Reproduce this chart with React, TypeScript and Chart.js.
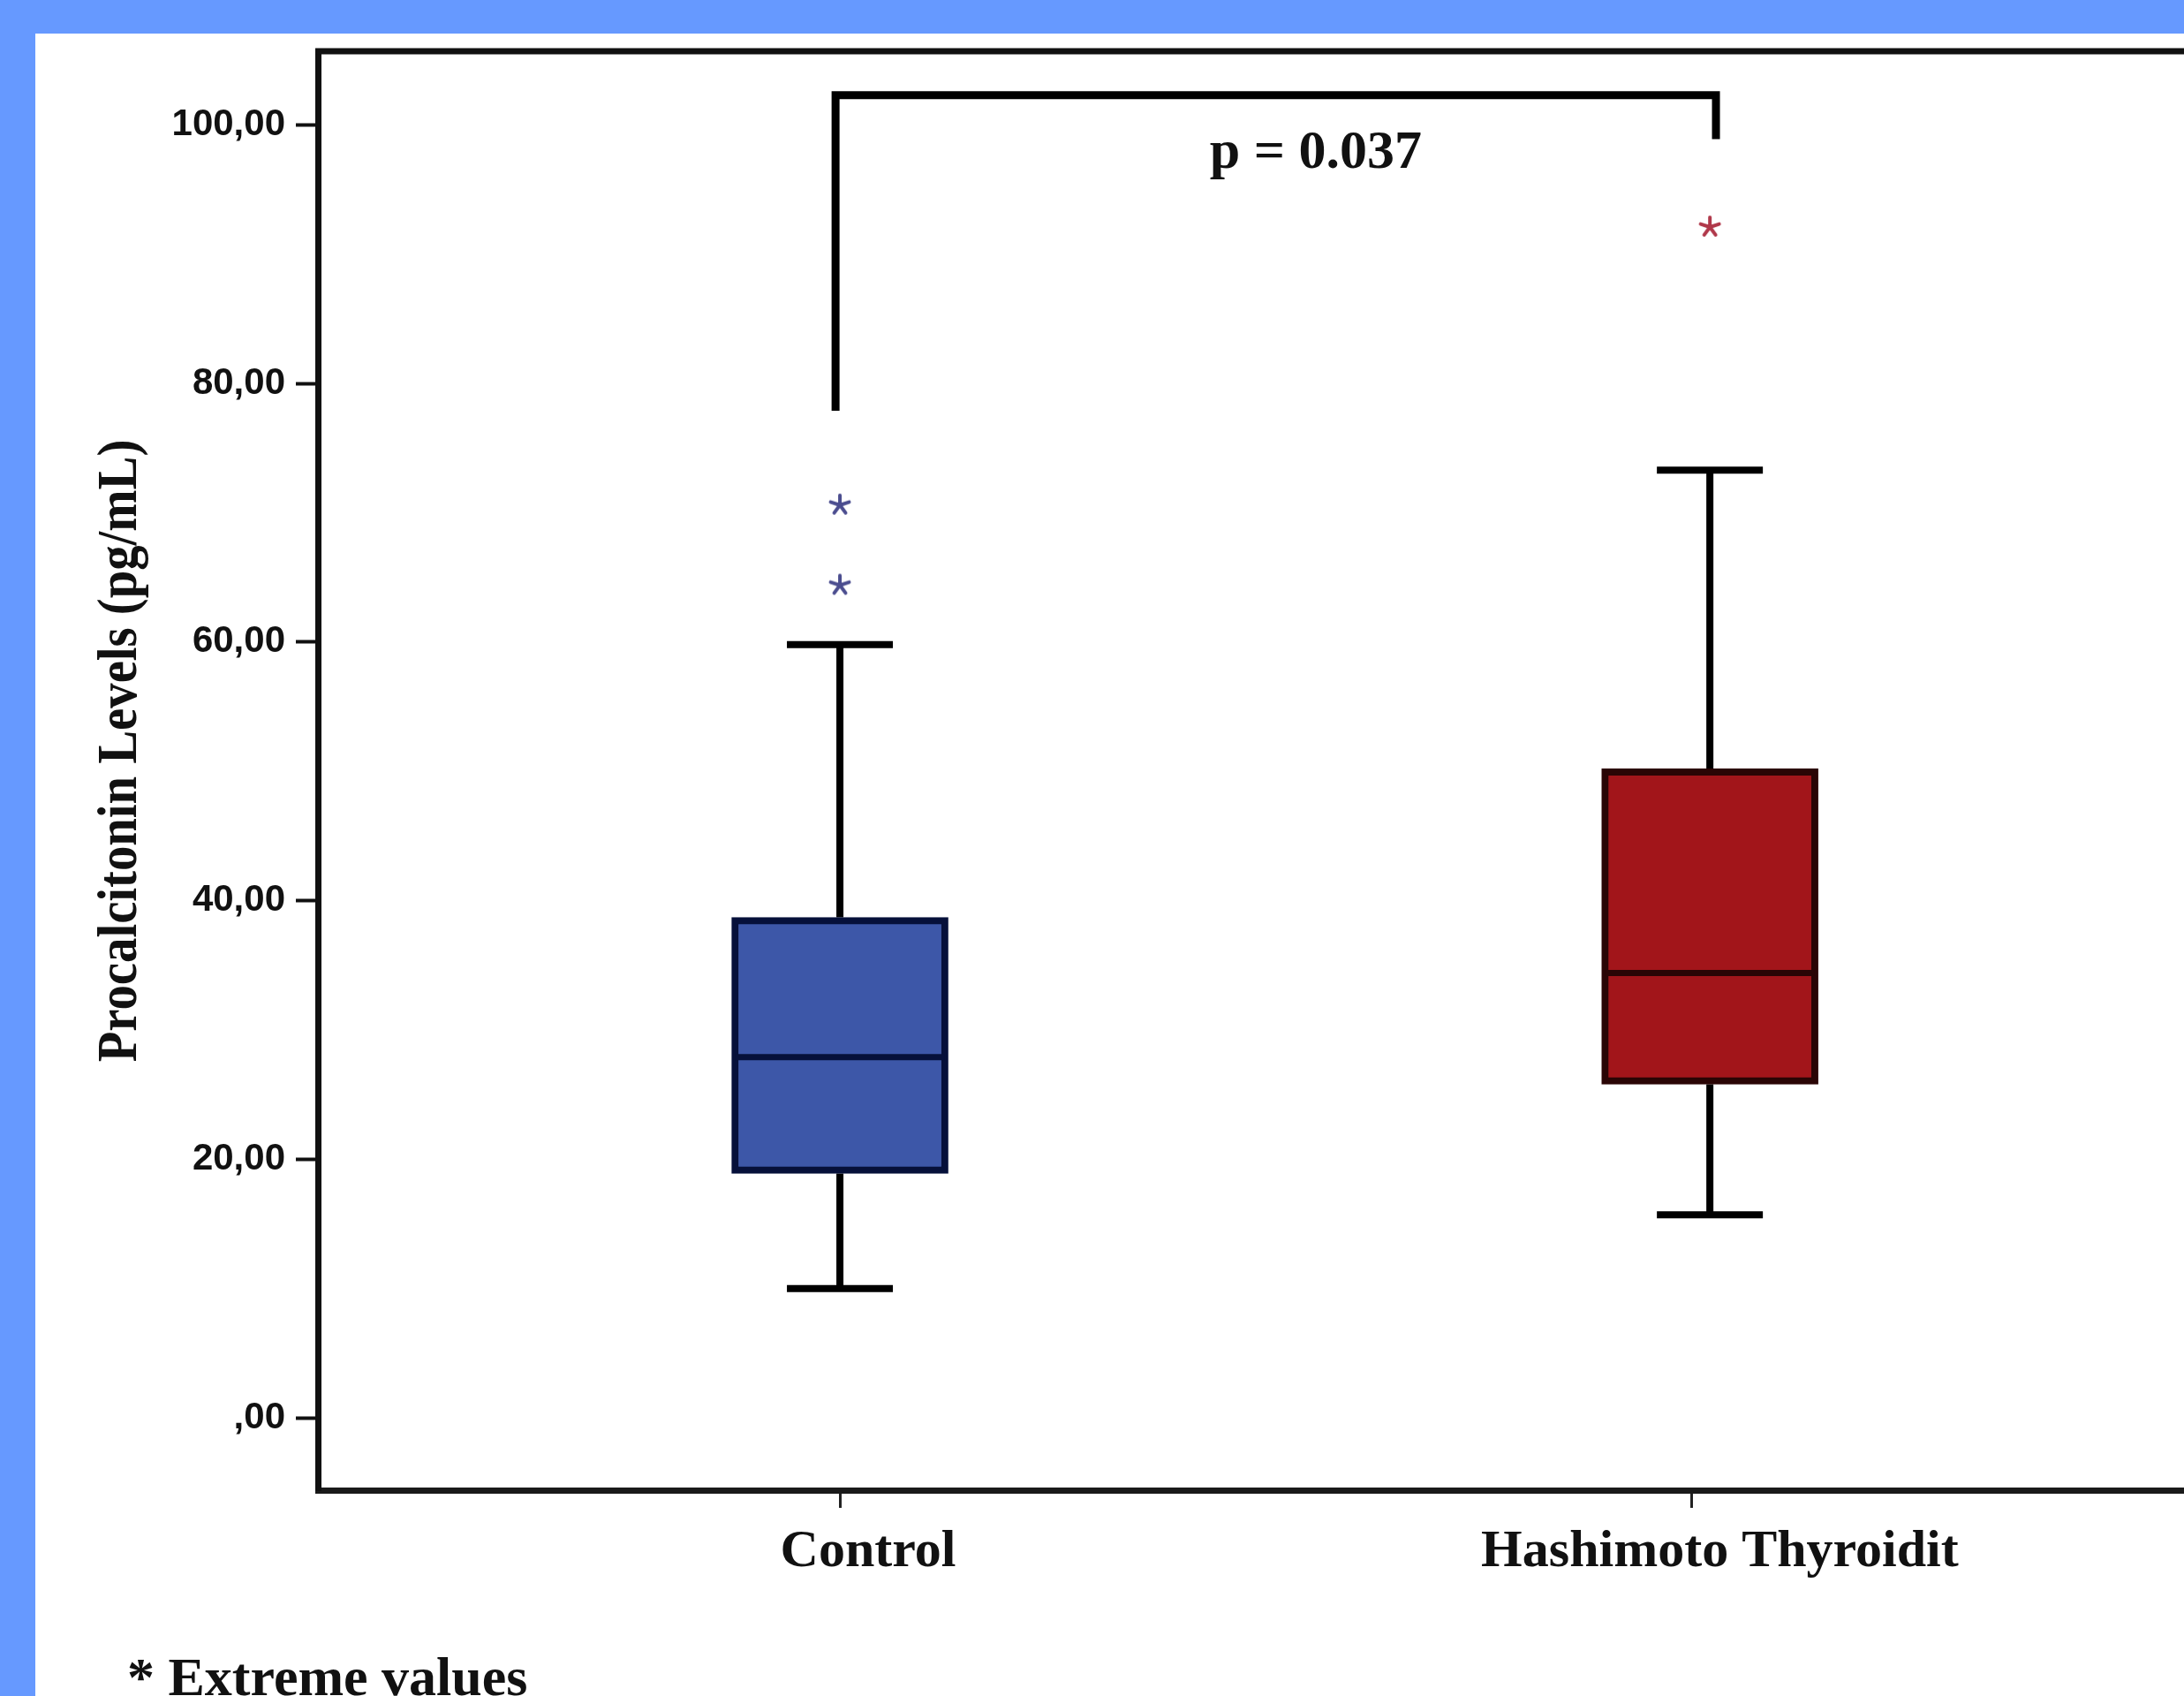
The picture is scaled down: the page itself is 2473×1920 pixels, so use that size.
import { useEffect, useRef } from "react";
import { Chart, ChartConfiguration, registerables } from "chart.js";

Chart.register(...registerables);

// Box plot values (pg/mL)
const groups = ["Control", "Hashimoto Thyroidit"];
const groupX = [1, 2];
const axisTickX = [1, 1.979]; // the x-axis ticks sit slightly off the box centres in the original
const whiskerLow = [10.0, 15.7];
const q1 = [18.9, 25.8];
const median = [27.9, 34.4];
const q3 = [38.7, 50.2];
const whiskerHigh = [59.8, 73.3];
const extremes = [[64.4, 70.6], [92.1]];
const yTicks = [0, 20, 40, 60, 80, 100];

// significance bracket
const bracketX = [0.995, 2.007];
const bracketTop = 102.3;
const bracketEnds = [77.9, 98.9];
const pLabel = "p = 0.037";
const pLabelX = 1.547;
const pLabelY = 96.7;

const boxFill = ["#3d57a8", "#a2151a"];
const boxEdge = ["#06103a", "#2a0505"];
const starColor = ["#4b4d8f", "#b0384a"];

const SERIF = "'Liberation Serif', 'Times New Roman', serif";
const SANS = "'Liberation Sans', Arial, sans-serif";

function makeStar(color: string) {
  const c = document.createElement("canvas");
  c.width = 30;
  c.height = 30;
  const g = c.getContext("2d")!;
  g.strokeStyle = color;
  g.lineWidth = 4;
  g.lineCap = "round";
  for (let k = 0; k < 5; k++) {
    const a = -Math.PI / 2 + (k * 2 * Math.PI) / 5;
    g.beginPath();
    g.moveTo(15, 15);
    g.lineTo(15 + Math.cos(a) * 11, 15 + Math.sin(a) * 11);
    g.stroke();
  }
  return c;
}

const boxParts = {
  id: "boxParts",
  beforeDatasetsDraw(chart: any) {
    const { ctx, scales: { x, y } } = chart;
    ctx.save();
    ctx.strokeStyle = "#000";
    ctx.lineWidth = 8;
    groups.forEach((_, i) => {
      const cx = x.getPixelForValue(groupX[i]);
      const cap = 60;
      ctx.beginPath();
      ctx.moveTo(cx, y.getPixelForValue(q3[i]));
      ctx.lineTo(cx, y.getPixelForValue(whiskerHigh[i]));
      ctx.moveTo(cx, y.getPixelForValue(q1[i]));
      ctx.lineTo(cx, y.getPixelForValue(whiskerLow[i]));
      ctx.moveTo(cx - cap, y.getPixelForValue(whiskerHigh[i]));
      ctx.lineTo(cx + cap, y.getPixelForValue(whiskerHigh[i]));
      ctx.moveTo(cx - cap, y.getPixelForValue(whiskerLow[i]));
      ctx.lineTo(cx + cap, y.getPixelForValue(whiskerLow[i]));
      ctx.stroke();
    });
    ctx.restore();
  },
  afterDatasetsDraw(chart: any) {
    const { ctx, chartArea, scales: { x, y } } = chart;
    const bars = chart.getDatasetMeta(0).data;
    ctx.save();

    // medians
    ctx.lineWidth = 7;
    groups.forEach((_, i) => {
      const cx = x.getPixelForValue(groupX[i]);
      const half = bars[i].width / 2 - 4;
      const my = y.getPixelForValue(median[i]);
      ctx.strokeStyle = boxEdge[i];
      ctx.beginPath();
      ctx.moveTo(cx - half, my);
      ctx.lineTo(cx + half, my);
      ctx.stroke();
    });

    // top edge of the frame
    ctx.strokeStyle = "#111";
    ctx.lineWidth = 7;
    ctx.beginPath();
    ctx.moveTo(chartArea.left - 3, chartArea.top);
    ctx.lineTo(chartArea.right, chartArea.top);
    ctx.stroke();

    // bracket
    ctx.strokeStyle = "#000";
    ctx.lineWidth = 9;
    ctx.lineJoin = "miter";
    ctx.beginPath();
    ctx.moveTo(x.getPixelForValue(bracketX[0]), y.getPixelForValue(bracketEnds[0]));
    ctx.lineTo(x.getPixelForValue(bracketX[0]), y.getPixelForValue(bracketTop));
    ctx.lineTo(x.getPixelForValue(bracketX[1]), y.getPixelForValue(bracketTop));
    ctx.lineTo(x.getPixelForValue(bracketX[1]), y.getPixelForValue(bracketEnds[1]));
    ctx.stroke();

    ctx.fillStyle = "#111";
    ctx.font = `bold 62px ${SERIF}`;
    ctx.textAlign = "center";
    ctx.textBaseline = "alphabetic";
    ctx.fillText(pLabel, x.getPixelForValue(pLabelX), y.getPixelForValue(pLabelY));

    // y axis title
    ctx.save();
    ctx.translate(97, 812);
    ctx.rotate(-Math.PI / 2);
    ctx.scale(0.886, 1);
    ctx.font = `bold 64px ${SERIF}`;
    ctx.textBaseline = "middle";
    ctx.fillText("Procalcitonin Levels (pg/mL)", 0, 0);
    ctx.restore();

    // footnote
    ctx.textAlign = "left";
    ctx.font = `bold 62px ${SERIF}`;
    ctx.fillText("* Extreme values", 104, 1881);

    ctx.restore();
  },
};

export default function App() {
  const chartRef = useRef<HTMLCanvasElement>(null);
  const chartInstance = useRef<Chart | null>(null);

  useEffect(() => {
    if (!chartRef.current) return;
    if (chartInstance.current) chartInstance.current.destroy();

    const stars = starColor.map((c) => makeStar(c));
    const extremePoints = extremes.flatMap((vals, i) => vals.map((v) => ({ x: groupX[i], y: v })));
    const extremeStyles = extremes.flatMap((vals, i) => vals.map(() => stars[i]));

    const config: ChartConfiguration = {
      type: "bar",
      data: {
        datasets: [
          {
            type: "bar",
            data: groups.map((_, i) => ({ x: groupX[i], y: [q1[i], q3[i]] })) as any,
            backgroundColor: boxFill,
            borderColor: boxEdge,
            borderWidth: 8,
            borderSkipped: false,
            barThickness: 245,
          },
          {
            type: "scatter",
            data: extremePoints,
            pointStyle: extremeStyles as any,
            pointRadius: 15,
          },
        ],
      },
      options: {
        responsive: false,
        animation: false,
        layout: { autoPadding: false, padding: { top: 20, right: 0, left: 0, bottom: 0 } },
        plugins: {
          legend: { display: false },
          tooltip: { enabled: false },
        },
        scales: {
          x: {
            type: "linear",
            min: 0.4,
            max: 2.545,
            offset: false,
            afterBuildTicks: (scale: any) => {
              scale.ticks = axisTickX.map((v) => ({ value: v }));
            },
            afterFit: (scale: any) => {
              scale.height = 233;
              scale.paddingLeft = 0;
              scale.paddingRight = 0;
            },
            grid: {
              display: true,
              offset: false,
              drawOnChartArea: false,
              tickLength: 20,
              tickWidth: 3,
              color: "#222",
            },
            border: { display: true, width: 7, color: "#1a1a1a" },
            ticks: {
              autoSkip: false,
              maxRotation: 0,
              labelOffset: 32,
              padding: 14,
              color: "#111",
              font: { family: SERIF, size: 60, weight: "bold" },
              callback: (_v: any, index: number) => groups[index] ?? "",
            },
          },
          y: {
            type: "linear",
            min: -5.6,
            max: 105.7,
            afterBuildTicks: (scale: any) => {
              scale.ticks = yTicks.map((v) => ({ value: v }));
            },
            afterFit: (scale: any) => {
              scale.width = 320;
              scale.paddingTop = 0;
              scale.paddingBottom = 0;
            },
            grid: {
              display: true,
              drawOnChartArea: false,
              tickLength: 25,
              tickWidth: 4,
              color: "#111",
            },
            border: { display: true, width: 7, color: "#111" },
            ticks: {
              padding: 12,
              color: "#111",
              font: { family: SANS, size: 42, weight: "bold" },
              callback: (v: any) => (Number(v) === 0 ? ",00" : Number(v).toFixed(2).replace(".", ",")),
            },
          },
        },
      },
      plugins: [boxParts],
    };

    chartInstance.current = new Chart(chartRef.current, config);

    return () => {
      if (chartInstance.current) {
        chartInstance.current.destroy();
        chartInstance.current = null;
      }
    };
  }, []);

  return (
    <div
      style={{
        position: "fixed",
        left: 0,
        top: 0,
        width: 2473,
        height: 1920,
        background: "#6699ff",
        overflow: "hidden",
      }}
    >
      <div
        style={{
          position: "absolute",
          left: 40,
          top: 38,
          width: 2433,
          height: 1882,
          background: "#ffffff",
        }}
      >
        <canvas ref={chartRef} width={2433} height={1882} style={{ display: "block" }} />
      </div>
    </div>
  );
}
